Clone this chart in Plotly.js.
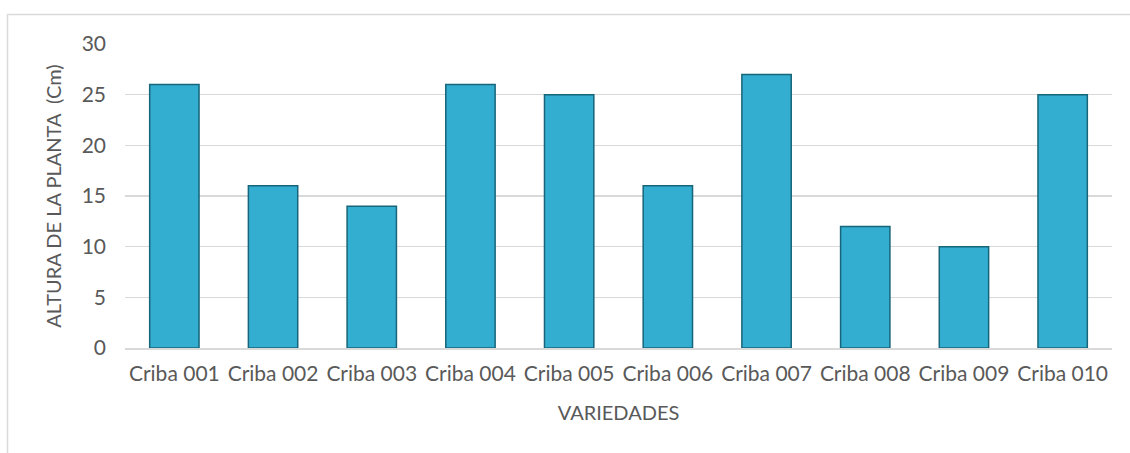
<!DOCTYPE html>
<html>
<head>
<meta charset="utf-8">
<script src="https://cdn.plot.ly/plotly-3.0.1.min.js"></script>
<style>
  html, body { margin: 0; padding: 0; background: #fff; }
  #chart { width: 1130px; height: 453px; }
</style>
</head>
<body>
<div id="chart"></div>
<script>
// Variedades y altura de la planta (cm)
const variedades = ["Criba 001", "Criba 002", "Criba 003", "Criba 004", "Criba 005",
                    "Criba 006", "Criba 007", "Criba 008", "Criba 009", "Criba 010"];
const altura = [26, 16, 14, 26, 25, 16, 27, 12, 10, 25];
const yTicks = [0, 5, 10, 15, 20, 25, 30];

const txt = "#595959";
const fontFam = "Lato, 'Open Sans', sans-serif";

const trace = {
  x: variedades,
  y: altura,
  type: "bar",
  marker: {
    color: "#33aed1",
    line: { color: "#176579", width: 1.5 }
  },
  hoverinfo: "x+y"
};

const layout = {
  width: 1130,
  height: 453,
  margin: { l: 125, r: 18, t: 44, b: 105 },
  paper_bgcolor: "#fff",
  plot_bgcolor: "#fff",
  bargap: 0.5,
  showlegend: false,
  font: { family: fontFam, color: txt, size: 21 },
  xaxis: {
    title: { text: "VARIEDADES", font: { size: 20, color: txt }, standoff: 22 },
    tickfont: { size: 21, color: txt },
    ticklabelstandoff: 6,
    showline: true,
    linecolor: "#d9d9d9",
    linewidth: 1.5,
    ticks: "",
    automargin: false,
    fixedrange: true
  },
  yaxis: {
    title: { text: "ALTURA DE LA PLANTA  (Cm)", font: { size: 20, color: txt }, standoff: 14 },
    range: [0, 30],
    tickvals: yTicks,
    tickfont: { size: 21, color: txt },
    ticklabelstandoff: 18,
    gridcolor: "#d9d9d9",
    gridwidth: 1.5,
    zeroline: false,
    showline: false,
    ticks: "",
    automargin: false,
    fixedrange: true
  },
  shapes: [{
    type: "rect",
    xref: "paper", yref: "paper",
    x0: (7.5 - 125) / 987, x1: 1.03,
    y0: -0.4, y1: (348 - 14.5) / 304,
    line: { color: "#d9d9d9", width: 1.5 },
    fillcolor: "rgba(0,0,0,0)",
    layer: "below"
  }]
};

Plotly.newPlot("chart", [trace], layout, { displayModeBar: false, staticPlot: true });
</script>
</body>
</html>
